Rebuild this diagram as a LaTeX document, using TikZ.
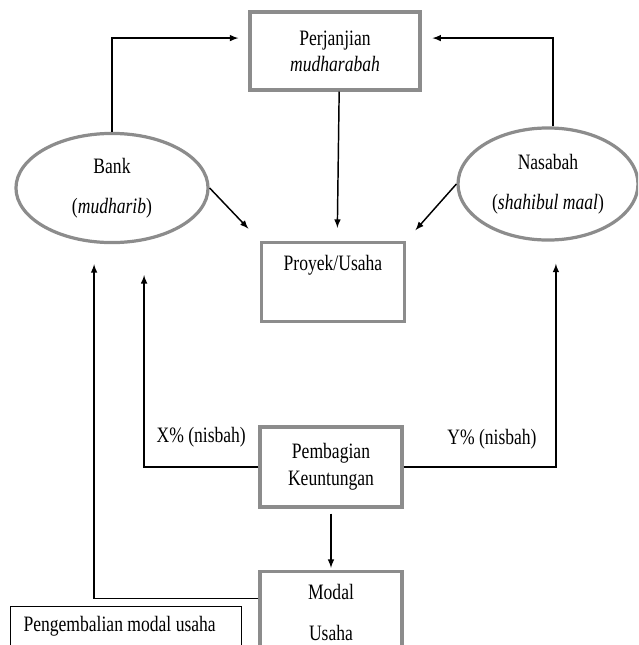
\documentclass[tikz,border=0pt]{standalone}
\usepackage{fontspec}
\setmainfont{Liberation Serif}[FakeStretch=0.8]
\usetikzlibrary{shapes.geometric}

\begin{document}
\begin{tikzpicture}[x=0.024cm,y=-0.024cm,>=latex,font=\fontsize{15}{16}\selectfont]
    % `block' is used for the grey boxes, `party' for the two ellipses.
    % `link' is used for all the arrows.
    \tikzstyle{block} = [draw=black!45,line width=2.2pt,minimum width=3.41cm,minimum height=1.9cm,align=center]
    \tikzstyle{party} = [draw=black!45,line width=2.2pt,ellipse,inner sep=1pt,align=center]
    \tikzstyle{link} = [->,black,line width=1pt]
    \useasboundingbox (0,0) rectangle (638,645);
    \clip (0,0) rectangle (638,645);
    %
    \node[block,minimum width=4.08cm,minimum height=1.87cm] (perj) at (335,51) {Perjanjian\\[0.06cm]\textit{mudharabah}};
    \node[block,minimum width=3.43cm,minimum height=1.9cm,
      label={[anchor=center,yshift=-0.58cm]north:Proyek/Usaha}] (proyek) at (333,282) {};
    \node[party,minimum width=4.61cm,minimum height=2.62cm] (bank) at (112,188) {Bank\\[0.4cm](\textit{mudharib})};
    \node[party,minimum width=4.32cm,minimum height=2.69cm] (nasabah) at (548,184) {Nasabah\\[0.4cm](\textit{shahibul maal})};
    \node[block,minimum height=1.92cm] (pemb) at (331,467) {Pembagian\\[0.09cm]Keuntungan};
    \node[block,minimum height=2.4cm,anchor=north,
      label={[anchor=center,yshift=-0.53cm]north:Modal},
      label={[anchor=center,yshift=-1.51cm]north:Usaha}] (modal) at (331,570) {};
    \node[draw,line width=0.7pt,minimum width=5.54cm,minimum height=2cm,anchor=north west,
      label={[anchor=west,xshift=0.2cm,yshift=-0.48cm]north west:Pengembalian modal usaha}] (kembali) at (10,606) {};
    %
    \draw[link,shorten >=0.24cm] (bank.north) |- ([yshift=0.31cm]perj.west);
    \draw[link,shorten >=0.26cm] ([xshift=0.12cm]nasabah.north) |- ([yshift=0.31cm]perj.east);
    \draw[link,shorten >=0.31cm] ([xshift=0.1cm]perj.south) -- ([xshift=0.1cm]proyek.north);
    \draw[link,shorten >=0.4cm] (bank.east) -- (proyek.north west);
    \draw[link,shorten >=0.34cm] (nasabah.west) -- (proyek.north east);
    \draw[link] (pemb.west) -| ([xshift=0.77cm,yshift=-0.74cm]bank.south)
      node[pos=0.25,above=0.35cm] {X\% (nisbah)};
    \draw[link] (pemb.east) -| ([xshift=0.19cm,yshift=-0.53cm]nasabah.south)
      node[pos=0.29,above=0.3cm] {Y\% (nisbah)};
    \draw[link,shorten <=0.12cm,shorten >=0.05cm] (pemb.south) -- (modal.north);
    \draw[link] ([yshift=0.55cm]modal.west) -| ([xshift=-0.43cm,yshift=-0.48cm]bank.south);
\end{tikzpicture}
\end{document}
